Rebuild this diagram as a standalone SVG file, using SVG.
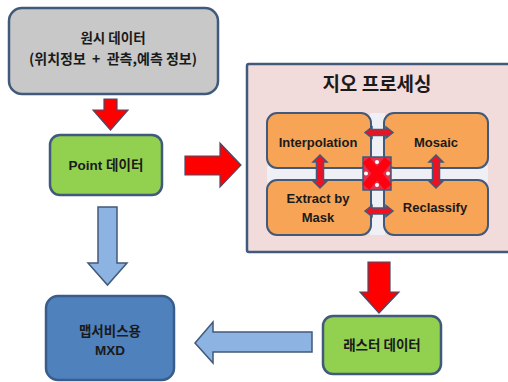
<svg xmlns="http://www.w3.org/2000/svg" width="508" height="382" viewBox="0 0 508 382">
<style>
.box{stroke:#41597a;stroke-width:2.5}
.gray{fill:#c8c8c8}
.green{fill:#92d050}
.blue{fill:#4f81bd;stroke:#385d8a}
.orange{fill:#f7a456;stroke:#41597a;stroke-width:2}
.kr{font-family:"Noto Sans CJK KR","Liberation Sans",sans-serif;font-weight:bold;fill:#1a1a1a;text-anchor:middle}
.en{font-family:"Liberation Sans","Noto Sans CJK KR",sans-serif;font-weight:bold;fill:#1a1a1a;text-anchor:middle}
.red{fill:#ff0000;stroke:#4a4a6a;stroke-width:1.2}
.lb{fill:#8db3e2;stroke:#41597a;stroke-width:1.5}
.dbl{fill:#f01020;stroke:#41597a;stroke-width:1.5}
</style>
<rect width="508" height="382" fill="#ffffff"/>

<g id="raw-data">
<rect class="box gray" x="9" y="8" width="209" height="86" rx="13"/>
<text class="kr" x="113" y="43" font-size="13.5">원시 데이터</text>
<text class="kr" x="113" y="64" font-size="14" xml:space="preserve">(위치정보  +  관측,예측 정보)</text>
</g>

<g id="point-data">
<rect class="box green" x="50" y="135" width="112" height="60" rx="10"/>
<text class="en" x="106" y="170" font-size="13.5">Point 데이터</text>
</g>

<g id="geo-processing">
<rect class="box" fill="#f2dcdb" x="247" y="64" width="270" height="188" rx="2"/>
<text class="kr" x="377" y="91" font-size="19">지오 프로세싱</text>
<rect x="370" y="113" width="15" height="122" fill="#eef0f6"/>
<rect x="267" y="166" width="221" height="16" fill="#eef0f6"/>
</g>

<g id="interpolation">
<rect class="orange" x="267" y="113" width="104" height="55" rx="10"/>
<text class="en" x="318" y="147" font-size="13">Interpolation</text>
</g>
<g id="mosaic">
<rect class="orange" x="384" y="113" width="104" height="55" rx="10"/>
<text class="en" x="436" y="147" font-size="13">Mosaic</text>
</g>
<g id="extract-by-mask">
<rect class="orange" x="267" y="180" width="104" height="55" rx="10"/>
<text class="en" x="318" y="203" font-size="13">Extract by</text>
<text class="en" x="318" y="222" font-size="13">Mask</text>
</g>
<g id="reclassify">
<rect class="orange" x="384" y="180" width="104" height="55" rx="10"/>
<text class="en" x="435" y="212" font-size="13">Reclassify</text>
</g>

<g id="raster-data">
<rect class="box green" x="323" y="316" width="118" height="58" rx="10"/>
<text class="kr" x="382" y="350" font-size="13.5">래스터 데이터</text>
</g>

<g id="mxd">
<rect class="box blue" x="46" y="296" width="128" height="84" rx="12"/>
<text class="kr" x="110" y="336" font-size="13.5" fill="#1a2030">맵서비스용</text>
<text class="en" x="110" y="355" font-size="13.5">MXD</text>
</g>

<g id="connectors">
<polygon class="red" points="104,99 117,99 117,110 128,110 110.5,130 93,110 104,110"/>
<polygon class="red" points="185,156 220,156 220,143 241,165 220,187 220,175 185,175"/>
<polygon class="lb" points="98,207 117,207 117,263 127,263 107.5,285 88,263 98,263"/>
<polygon class="red" points="368,262 390,262 390,292 399,292 379,313 360,292 368,292"/>
<polygon class="lb" points="312,332 213,332 213,322 195,343 213,363 213,352 312,352"/>
<polygon class="dbl" points="365,132.5 372,127 372,129.5 386,129.5 386,127 393,132.5 386,138 386,135.5 372,135.5 372,138"/>
<polygon class="dbl" points="365,211 372,205.5 372,208 386,208 386,205.5 393,211 386,216.5 386,214 372,214 372,216.5"/>
<polygon class="dbl" points="320,155 327,162 323.5,162 323.5,181 327,181 320,188 313,181 316.5,181 316.5,162 313,162"/>
<polygon class="dbl" points="436,155 443,162 439.5,162 439.5,181 443,181 436,188 429,181 432.5,181 432.5,162 429,162"/>
<rect x="363" y="157" width="28" height="33" fill="#e0304a" stroke="#41597a" stroke-width="1.5"/>
<path d="M366,160 L388,187 M388,160 L366,187" stroke="#ff0010" stroke-width="9" fill="none"/>
<circle cx="377" cy="162" r="2" fill="#ffffff"/>
<circle cx="377" cy="185" r="2" fill="#ffffff"/>
<circle cx="366" cy="173.5" r="2" fill="#ffffff"/>
<circle cx="388" cy="173.5" r="2" fill="#ffffff"/>
</g>
</svg>
